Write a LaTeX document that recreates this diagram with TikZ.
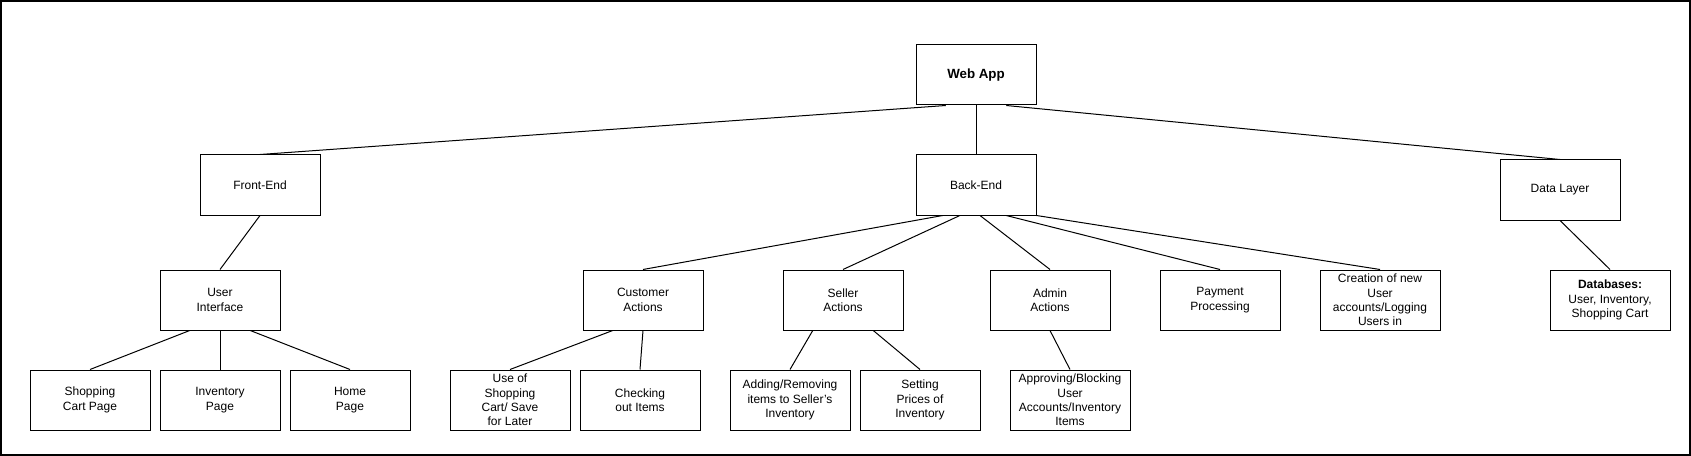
\documentclass[tikz,border=0pt]{standalone}
\usepackage{fontspec}
\setmainfont{Liberation Sans}
\usepackage{tikz}
\usetikzlibrary{calc}
\usepackage{xcolor}

\tikzset{
  box/.style={draw,line width=.75pt,minimum width=90pt,minimum height=45pt,
    inner sep=0pt,align=center,font=\fontsize{9}{10.7}\selectfont},
  link/.style={line width=.75pt}
}

\begin{document}
\begin{tikzpicture}[x=.75pt,y=-.75pt]

\useasboundingbox (0,0) rectangle (1691,456);
\draw [line width=1.2pt] (1,1) rectangle (1690,455);

%top levels
\node [box,font=\fontsize{10}{12}\selectfont\bfseries] (web) at (976,75) {Web App};
\node [box] (front) at (260,185) {Front-End};
\node [box] (back) at (976,185) {Back-End};
\node [box] (data) at (1560,190) {Data Layer};

%second row
\node [box] (ui) at (220,300) {User\\Interface};
\node [box] (cust) at (643,300) {Customer\\Actions};
\node [box] (seller) at (843,300) {Seller\\Actions};
\node [box] (admin) at (1050,300) {Admin\\Actions};
\node [box] (pay) at (1220,300) {Payment\\Processing};
\node [box] (acct) at (1380,300) {Creation of new\\User\\accounts/Logging\\Users in};
\node [box] (db) at (1610,300) {\textbf{Databases:}\\User, Inventory,\\Shopping Cart};

%third row
\node [box] (cart) at (90,400) {Shopping\\Cart Page};
\node [box] (inv) at (220,400) {Inventory\\Page};
\node [box] (home) at (350,400) {Home\\Page};
\node [box] (usecart) at (510,400) {Use of\\Shopping\\Cart/ Save\\for Later};
\node [box] (checkout) at (640,400) {Checking\\out Items};
\node [box] (additems) at (790,400) {Adding/Removing\\items to Seller's\\Inventory};
\node [box] (prices) at (920,400) {Setting\\Prices of\\Inventory};
\node [box] (approve) at (1070,400) {Approving/Blocking\\User\\Accounts/Inventory\\Items};

%links
\draw [link] ($(web.south west)!.25!(web.south east)$)--(front.north);
\draw [link] (web.south)--(back.north);
\draw [link] ($(web.south west)!.75!(web.south east)$)--(data.north);

\draw [link] (front.south)--(ui.north);
\draw [link] ($(ui.south west)!.25!(ui.south east)$)--(cart.north);
\draw [link] (ui.south)--(inv.north);
\draw [link] ($(ui.south west)!.75!(ui.south east)$)--(home.north);

\draw [link] ($(back.south west)!.225!(back.south east)$)--(cust.north);
\draw [link] ($(back.south west)!.367!(back.south east)$)--(seller.north);
\draw [link] ($(back.south west)!.533!(back.south east)$)--(admin.north);
\draw [link] ($(back.south west)!.75!(back.south east)$)--(pay.north);
\draw [link] (back.south east)--(acct.north);

\draw [link] ($(cust.south west)!.25!(cust.south east)$)--(usecart.north);
\draw [link] (cust.south)--(checkout.north);
\draw [link] ($(seller.south west)!.25!(seller.south east)$)--(additems.north);
\draw [link] ($(seller.south west)!.75!(seller.south east)$)--(prices.north);
\draw [link] (admin.south)--(approve.north);

\draw [link] (data.south)--(db.north);

\end{tikzpicture}
\end{document}
